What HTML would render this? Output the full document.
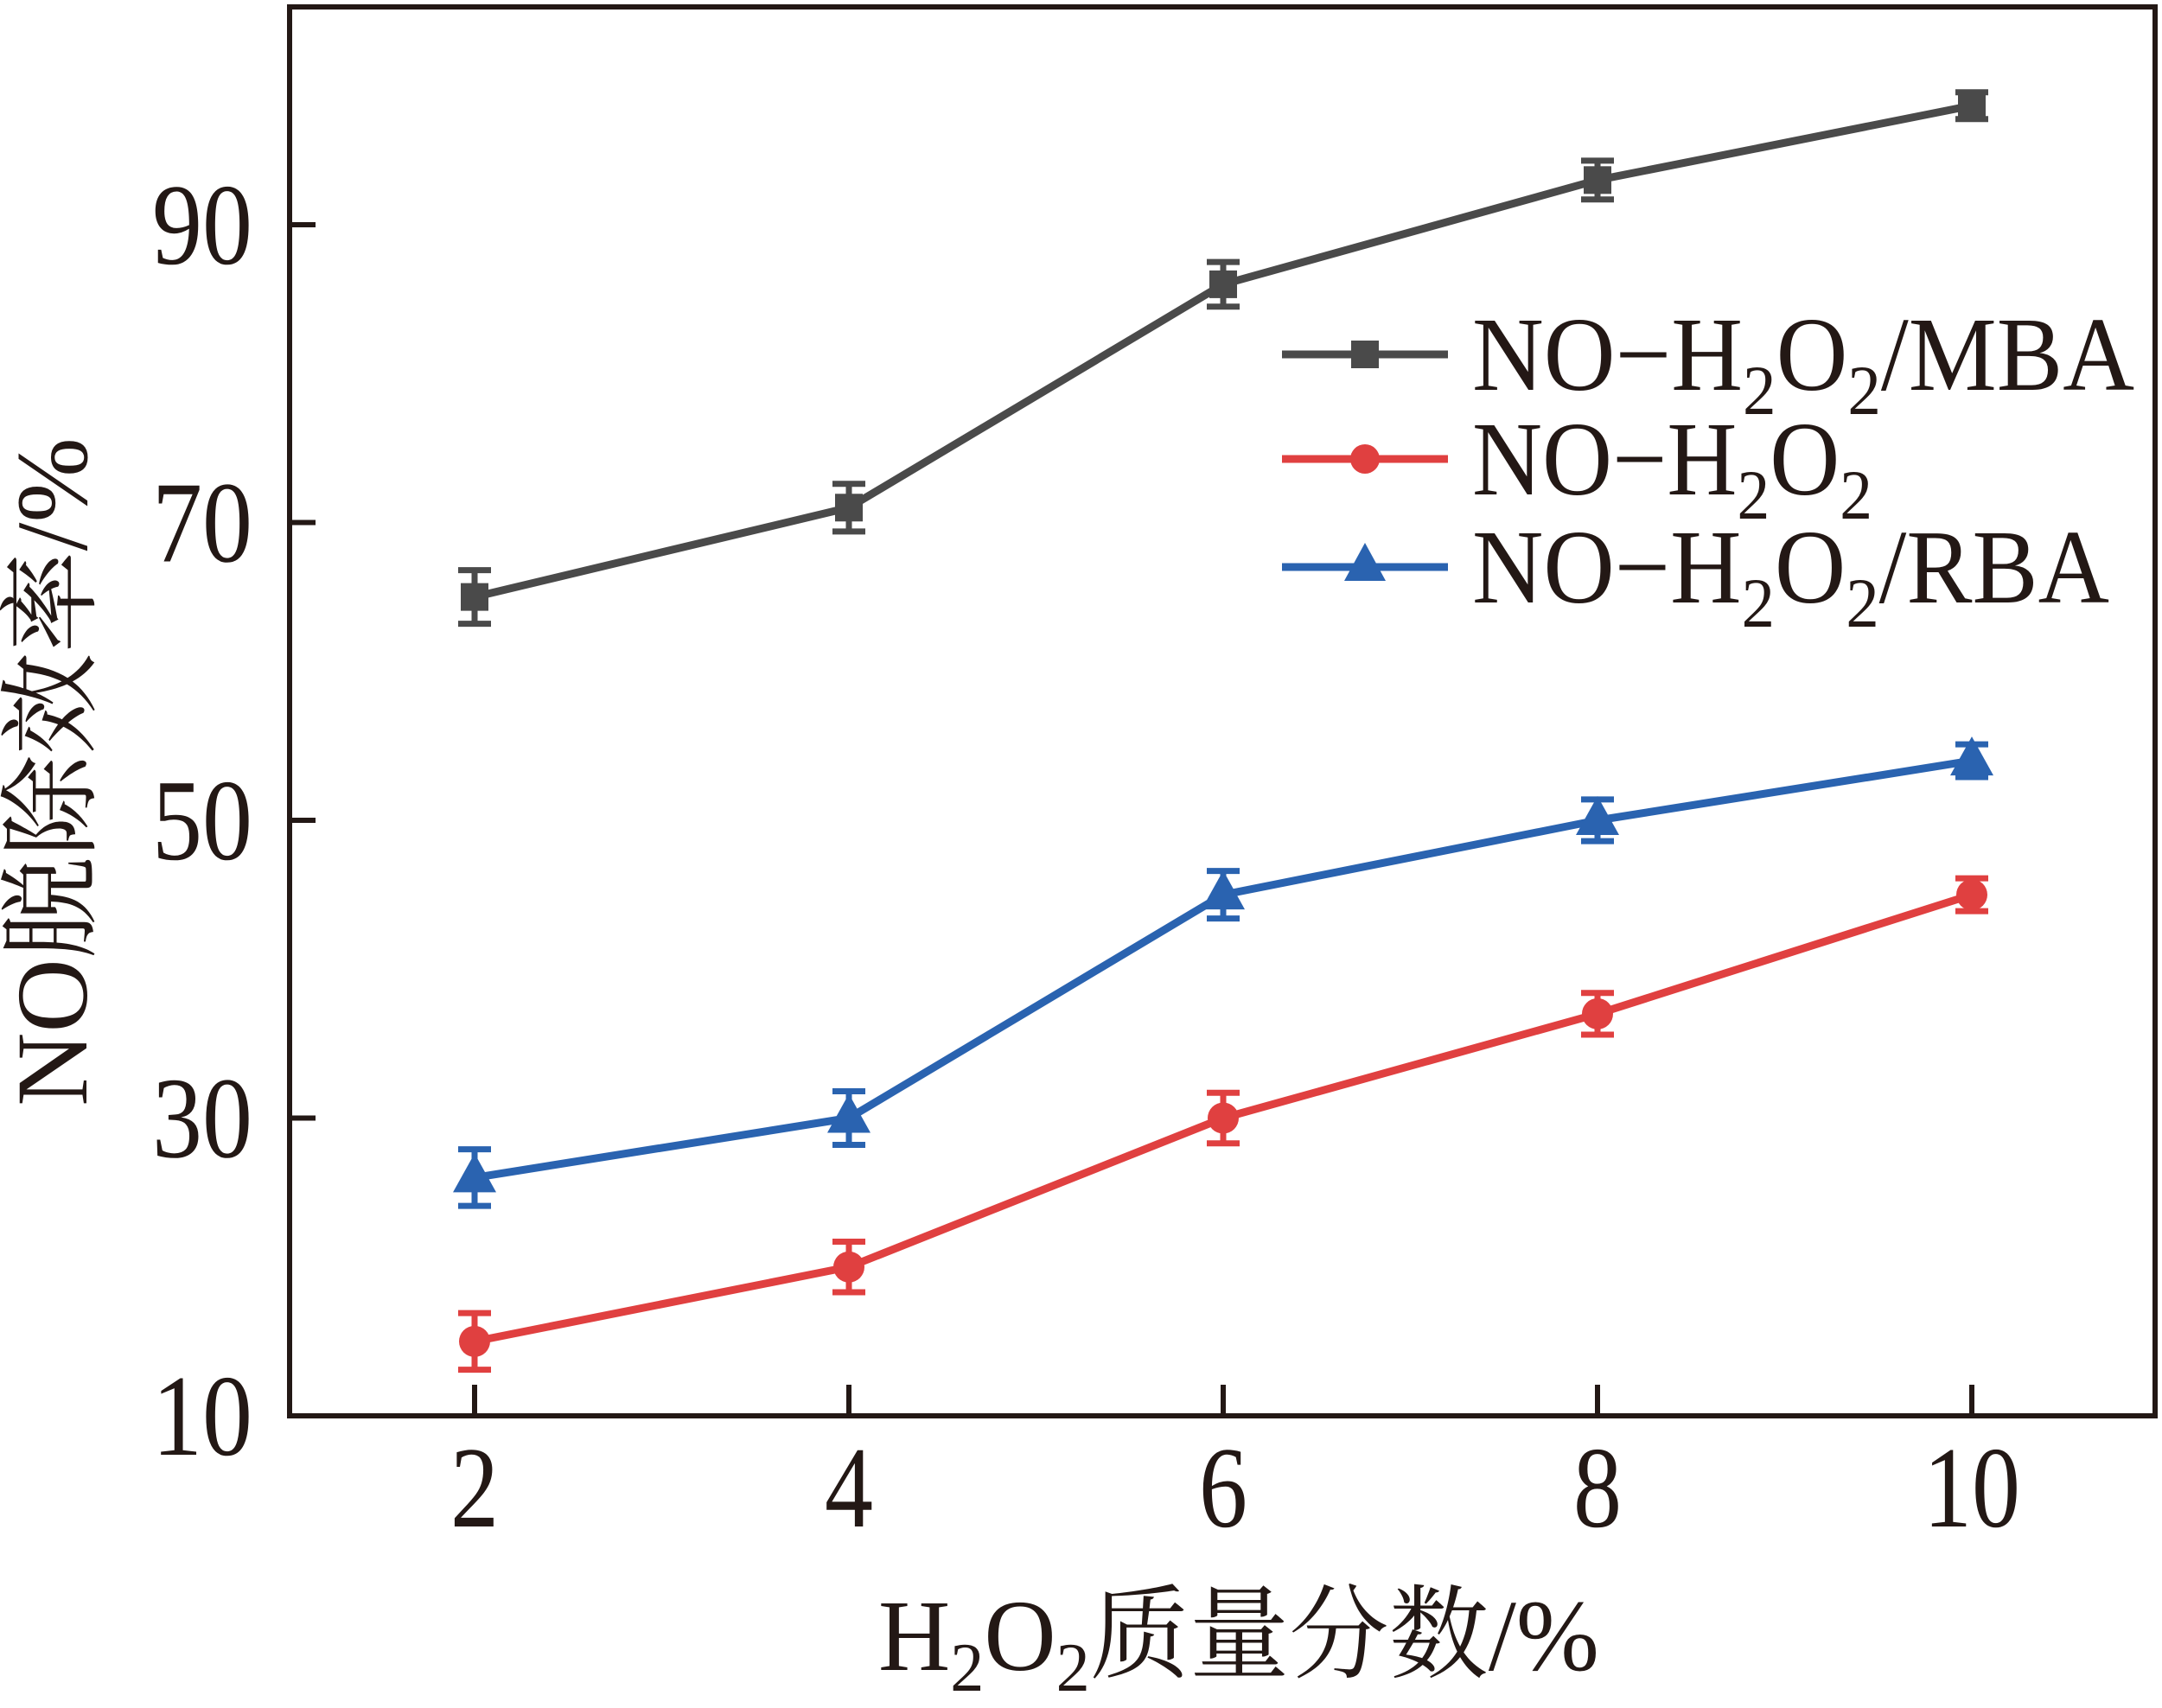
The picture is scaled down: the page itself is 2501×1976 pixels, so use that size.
<!DOCTYPE html>
<html><head><meta charset="utf-8"><style>
html,body{margin:0;padding:0;background:#fff;}
svg{display:block;}
text{font-family:"Liberation Serif","Noto Serif CJK SC",serif;fill:#231815;}
</style></head><body>
<svg id="chart" width="2501" height="1976" viewBox="0 0 2501 1976" xmlns="http://www.w3.org/2000/svg">
<g id="plot"></g>
<text transform="translate(100,893) rotate(-90)" text-anchor="middle" font-size="118">NO脱除效率/%</text>
<text x="1433" y="1932" text-anchor="middle" font-size="118" textLength="834" lengthAdjust="spacingAndGlyphs">H<tspan font-size="80" dy="24">2</tspan><tspan dy="-24">O</tspan><tspan font-size="80" dy="24">2</tspan><tspan dy="-24">质量分数/%</tspan></text>
<g>
 <g>
  <line x1="1483" y1="410" x2="1675" y2="410" stroke="#4a4a4a" stroke-width="9"/>
  <rect x="1563" y="394" width="32" height="32" fill="#4a4a4a"/>
  <text x="1703" y="451" font-size="122" textLength="766" lengthAdjust="spacingAndGlyphs">NO−H<tspan font-size="82" dy="28">2</tspan><tspan dy="-28">O</tspan><tspan font-size="82" dy="28">2</tspan><tspan dy="-28">/MBA</tspan></text>
 </g>
 <g>
  <line x1="1483" y1="531" x2="1675" y2="531" stroke="#e04040" stroke-width="9"/>
  <circle cx="1579" cy="531" r="17" fill="#e04040"/>
  <text x="1703" y="572" font-size="122" textLength="463" lengthAdjust="spacingAndGlyphs">NO−H<tspan font-size="82" dy="28">2</tspan><tspan dy="-28">O</tspan><tspan font-size="82" dy="28">2</tspan></text>
 </g>
 <g>
  <line x1="1483" y1="656" x2="1675" y2="656" stroke="#2a63b0" stroke-width="9"/>
  <polygon points="1579,628 1603,672 1555,672" fill="#2a63b0"/>
  <text x="1703" y="697" font-size="122" textLength="737" lengthAdjust="spacingAndGlyphs">NO−H<tspan font-size="82" dy="28">2</tspan><tspan dy="-28">O</tspan><tspan font-size="82" dy="28">2</tspan><tspan dy="-28">/RBA</tspan></text>
 </g>
</g>
</svg>
<script>
const categories = [2, 4, 6, 8, 10];
const mbaValues = [65, 71, 86, 93, 98];
const mbaErrors = [1.8, 1.6, 1.5, 1.3, 0.9];
const h2o2Values = [15, 20, 30, 37, 45];
const h2o2Errors = [1.9, 1.7, 1.7, 1.4, 1.1];
const rbaValues = [26, 30, 45, 50, 54];
const rbaErrors = [1.9, 1.8, 1.6, 1.4, 1.1];
const yTicks = [10, 30, 50, 70, 90];
const xTicks = [2, 4, 6, 8, 10];

const NS = 'http://www.w3.org/2000/svg';
const L = 335, R = 2493, T = 8, B = 1638;
function xs(v){ return 549 + (v - 2) * (2281 - 549) / 8; }
function ys(v){ return 1638 - (v - 10) * (1638 - 260) / 80; }
const plot = document.getElementById('plot');
function mk(tag, attrs, parent){
  const e = document.createElementNS(NS, tag);
  for (const k in attrs) e.setAttribute(k, attrs[k]);
  (parent || plot).appendChild(e);
  return e;
}
const series = [
  {name:'mba', vals:mbaValues, errs:mbaErrors, color:'#4a4a4a', marker:'square'},
  {name:'h2o2', vals:h2o2Values, errs:h2o2Errors, color:'#e04040', marker:'circle'},
  {name:'rba', vals:rbaValues, errs:rbaErrors, color:'#2a63b0', marker:'triangle'}
];
series.forEach(s => {
  const g = mk('g', {});
  
  
  const pts = categories.map((c, i) => xs(c) + ',' + ys(s.vals[i])).join(' ');
  const pl = mk('polyline', {points: pts, fill: 'none', stroke: s.color, 'stroke-width': 9, 'stroke-linejoin': 'round'}, g);
  
  
  categories.forEach((c, i) => {
    const x = xs(c), y = ys(s.vals[i]), y1 = ys(s.vals[i] + s.errs[i]), y2 = ys(s.vals[i] - s.errs[i]);
    const eb = mk('path', {d: `M${x},${y1}V${y2}M${x-19},${y1}H${x+19}M${x-19},${y2}H${x+19}`, stroke: s.color, 'stroke-width': 7, fill: 'none'}, g);
    
    
    let m;
    if (s.marker === 'square') m = mk('rect', {x: x-16, y: y-16, width: 32, height: 32, fill: s.color}, g);
    else if (s.marker === 'circle') m = mk('circle', {cx: x, cy: y, r: 18, fill: s.color}, g);
    else m = mk('polygon', {points: `${x},${y-28} ${x+25},${y+17} ${x-25},${y+17}`, fill: s.color}, g);
    
    
  });
});
const fr = mk('rect', {x: L, y: T, width: R-L, height: B-T, fill: 'none', stroke: '#231815', 'stroke-width': 6});


yTicks.forEach(v => {
  const t = mk('line', {x1: L, x2: L+30, y1: ys(v), y2: ys(v), stroke: '#231815', 'stroke-width': 6});
  
  
  const lb = mk('text', {x: 176, y: ys(v) + 45, 'font-size': 134, textLength: 116, lengthAdjust: 'spacingAndGlyphs'});
  lb.textContent = v;
  
  
});
xTicks.forEach(v => {
  const t = mk('line', {x1: xs(v), x2: xs(v), y1: B, y2: B-36, stroke: '#231815', 'stroke-width': 6});
  
  
  const w = String(v).length * 56;
  const lb = mk('text', {x: xs(v) - w/2, y: 1766, 'font-size': 134, textLength: w, lengthAdjust: 'spacingAndGlyphs'});
  lb.textContent = v;
  
  
});
</script>
</body></html>
